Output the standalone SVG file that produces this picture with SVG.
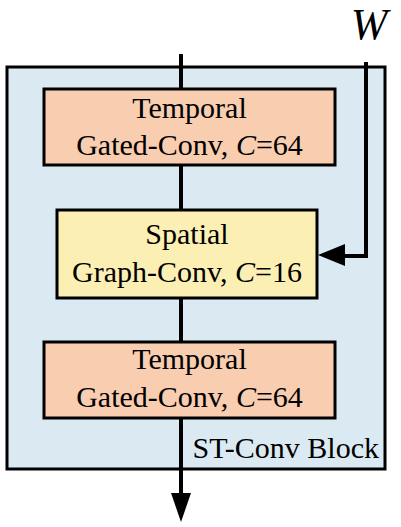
<svg xmlns="http://www.w3.org/2000/svg" width="401" height="527" viewBox="0 0 401 527">
<style>
text{font-family:"Liberation Serif","Times New Roman",serif;font-size:30px;fill:#000}
.box{stroke:#000;stroke-width:3}
.ln{stroke:#000;stroke-width:4;fill:none}
</style>
<g id="block">
<rect x="7" y="67" width="378" height="402" fill="#dbeaf2" stroke="#000" stroke-width="3"/>
<text x="379" y="458" text-anchor="end">ST-Conv Block</text>
</g>
<g id="connectors">
<line class="ln" x1="181" y1="54" x2="181" y2="495"/>
<path d="M171,493L191,493L181,522z" fill="#000"/>
<polyline class="ln" points="366,62 366,256 345,256"/>
<path d="M345,244L345,266L318,255z" fill="#000"/>
</g>
<g id="w-label">
<text x="369" y="39" text-anchor="middle" font-style="italic" style="font-size:44px">W</text>
</g>
<g id="temporal1">
<rect class="box" x="44" y="89" width="291" height="76" fill="#f8cdb0"/>
<text x="189.5" y="118" text-anchor="middle">Temporal</text>
<text x="189.5" y="155" text-anchor="middle">Gated-Conv, <tspan font-style="italic">C</tspan>=64</text>
</g>
<g id="spatial">
<rect class="box" x="57" y="210" width="260" height="88" fill="#fcefb4"/>
<text x="187" y="244" text-anchor="middle">Spatial</text>
<text x="187" y="282" text-anchor="middle">Graph-Conv, <tspan font-style="italic">C</tspan>=16</text>
</g>
<g id="temporal2">
<rect class="box" x="44" y="342" width="291" height="76" fill="#f8cdb0"/>
<text x="189.5" y="369" text-anchor="middle">Temporal</text>
<text x="189.5" y="407" text-anchor="middle">Gated-Conv, <tspan font-style="italic">C</tspan>=64</text>
</g>
</svg>
